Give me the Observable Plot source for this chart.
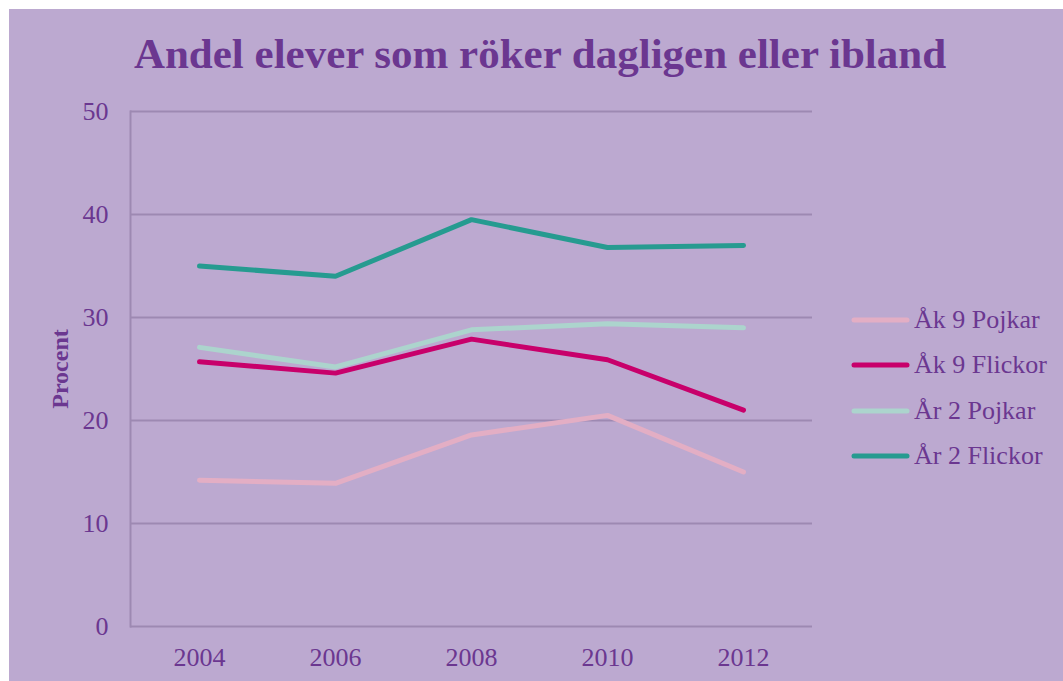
<!DOCTYPE html>
<html>
<head>
<meta charset="utf-8">
<script src="https://cdn.jsdelivr.net/npm/d3@7"></script>
<script src="https://cdn.jsdelivr.net/npm/@observablehq/plot@0.6"></script>
<style>
  html, body { margin: 0; padding: 0; background: #ffffff; }
  #chart { position: absolute; left: 9px; top: 9px; width: 1054px; height: 672px; background: #bca9d0; overflow: hidden; font-family: "Liberation Serif", "Times New Roman", serif; }
  #title { position: absolute; left: 0; width: 1062px; top: 20px; text-align: center; font-weight: bold; font-size: 43px; color: #6b3790; }
  #plot { position: absolute; left: 0; top: 0; }
  #legend { position: absolute; left: 840px; top: 288px; }
  .item { display: flex; align-items: center; height: 45.5px; font-size: 26px; color: #6b3790; }
  .item svg { margin-right: 1px; }
</style>
</head>
<body>
<div id="chart">
  <div id="plot"></div>
  <div id="title">Andel elever som röker dagligen eller ibland</div>
  <div id="legend"></div>
</div>
<script>
const years = ["2004", "2006", "2008", "2010", "2012"];
const seriesNames = ["Åk 9 Pojkar", "Åk 9 Flickor", "År 2 Pojkar", "År 2 Flickor"];
const ak9Pojkar  = [14.2, 13.9, 18.6, 20.5, 15.0];
const ak9Flickor = [25.7, 24.6, 27.9, 25.9, 21.0];
const ar2Pojkar  = [27.1, 25.2, 28.8, 29.4, 29.0];
const ar2Flickor = [35.0, 34.0, 39.5, 36.8, 37.0];
const seriesColors = ["#e3aec4", "#c8006b", "#acd4cd", "#269b90"];
const yTicks = [0, 10, 20, 30, 40, 50];

const allValues = [ak9Pojkar, ak9Flickor, ar2Pojkar, ar2Flickor];
const data = [];
seriesNames.forEach((name, i) => {
  years.forEach((yr, j) => data.push({series: name, year: yr, value: allValues[i][j]}));
});

const textColor = "#6b3790";
const gridColor = "#9d89b2";

const plot = Plot.plot({
  width: 1054,
  height: 672,
  marginLeft: 121,
  marginRight: 251,
  marginTop: 102,
  marginBottom: 55,
  style: { background: "transparent", fontFamily: "'Liberation Serif', 'Times New Roman', serif", fontSize: "26px", color: textColor },
  x: { type: "point", domain: years, padding: 0.5, label: null },
  y: { domain: [0, 50], ticks: yTicks, label: null },
  color: { domain: seriesNames, range: seriesColors },
  marks: [
    Plot.ruleY(yTicks, { stroke: gridColor, strokeWidth: 2, strokeOpacity: 1 }),
    Plot.frame({ anchor: "left", stroke: gridColor, strokeWidth: 2, strokeOpacity: 1 }),
    Plot.axisY({ ticks: yTicks, tickSize: 0, tickPadding: 22, fontSize: 26, fill: textColor, label: null }),
    Plot.axisX({ tickSize: 0, tickPadding: 21, fontSize: 26, fill: textColor, label: null }),
    Plot.lineY(data, { x: "year", y: "value", z: "series", stroke: "series", strokeWidth: 5, strokeLinecap: "round", strokeLinejoin: "miter" }),
    Plot.text(["Procent"], { frameAnchor: "left", dx: -70, rotate: -90, textAnchor: "middle", fontWeight: "bold", fontSize: 24, fill: textColor })
  ]
});
document.getElementById("plot").appendChild(plot);

const legend = document.getElementById("legend");
seriesNames.forEach((name, i) => {
  const item = document.createElement("div");
  item.className = "item";
  item.innerHTML = `<svg width="64" height="10"><line x1="5" y1="5" x2="58" y2="5" stroke="${seriesColors[i]}" stroke-width="5" stroke-linecap="round"/></svg><span>${name}</span>`;
  legend.appendChild(item);
});
</script>
</body>
</html>
